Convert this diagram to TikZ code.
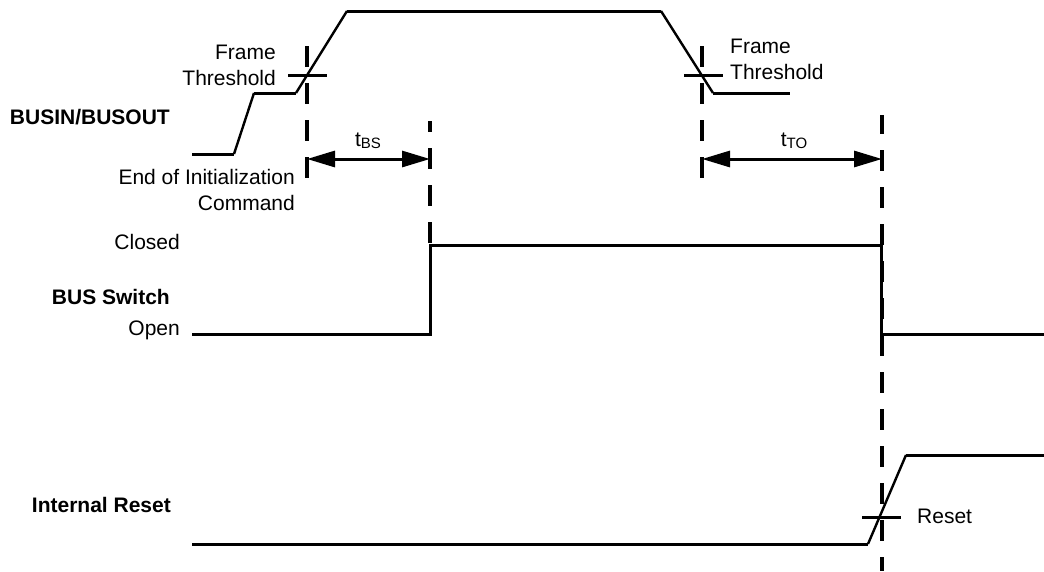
\documentclass[tikz,border=0pt]{standalone}
\usepackage{fontspec}
\setmainfont{Liberation Sans}
\usetikzlibrary{arrows.meta}

\newcommand{\tsub}[1]{t\raisebox{-2pt}{\fontsize{15}{17}\selectfont #1}}

\tikzset{
  sig/.style={line width=3pt},
  slope/.style={line width=2.4pt},
  marker/.style={line width=3.2pt, dash pattern=on 21pt off 16pt},
  tick/.style={line width=3pt},
  span/.style={line width=3pt, {Triangle[length=28pt,width=16pt]}-{Triangle[length=28pt,width=16pt]}},
  lbl/.style={inner sep=0pt, font=\fontsize{21}{26}\selectfont},
  signame/.style={inner sep=0pt, anchor=east, font=\fontsize{21}{26}\selectfont\bfseries},
}

\begin{document}
\begin{tikzpicture}[x=1pt, y=-1pt]
    	\useasboundingbox (0,0) rectangle (1044,571);
    	
    	% signal names
    	\node[signame] (busin)     at (170,117) {BUSIN/BUSOUT};
    	\node[signame] (busswitch) at (170,297) {BUS Switch};
    	\node[signame] (intreset)  at (171,505) {Internal Reset};
    	
    	% BUSIN/BUSOUT
    	\draw[sig]   (192,154) -- (234,154);
    	\draw[slope] (234,154) -- (254,93);
    	\draw[sig]   (254,93) -- (296,93);
    	\draw[slope] (296,93) -- (347,11);
    	\draw[sig]   (347,11) -- (661,11);
    	\draw[slope] (661,11) -- (713,93);
    	\draw[sig]   (713,93) -- (790,93);
    	
    	% BUS Switch
    	\draw[sig] (192,334) -- (430,334) -- (430,245) -- (881,245) -- (881,334) -- (1044,334);
    	
    	% Internal Reset
    	\draw[sig]   (192,544) -- (868,544);
    	\draw[slope] (868,544) -- (906,455);
    	\draw[sig]   (906,455) -- (1044,455);
    	
    	% thresholds
    	\coordinate (thrLa) at (288,75);
    	\coordinate (thrLb) at (327,75);
    	\coordinate (thrRa) at (684,75);
    	\coordinate (thrRb) at (723,75);
    	\coordinate (rsta)  at (862,517);
    	\coordinate (rstb)  at (901,517);
    	\path[tick] (thrLa) edge (thrLb);
    	\path[tick] (thrRa) edge (thrRb);
    	\path[tick] (rsta) edge (rstb);
    	
    	% time markers
    	\coordinate (m1top) at (307,46);
    	\coordinate (m1bot) at (307,190);
    	\coordinate (m2top) at (430,121);
    	\coordinate (m2bot) at (430,245);
    	\coordinate (m3top) at (702,46);
    	\coordinate (m3bot) at (702,190);
    	\coordinate (m4top) at (882,115);
    	\coordinate (m4bot) at (882,571);
    	\path[marker] (m1top) edge (m1bot);
    	\path[marker, dash phase=10pt] (m2top) edge (m2bot);
    	\path[marker] (m3top) edge (m3bot);
    	\path[marker, dash phase=2pt] (m4top) edge (m4bot);
    	
    	% intervals
    	\coordinate (bsL) at (307,159);
    	\coordinate (bsR) at (430,159);
    	\coordinate (toL) at (702,159);
    	\coordinate (toR) at (882,159);
    	\draw[span] (bsL) -- (bsR);
    	\draw[span] (toL) -- (toR);
    	\node[lbl, anchor=base] (tbs) at (368,146) {\tsub{BS}};
    	\node[lbl, anchor=base] (tto) at (794,146) {\tsub{TO}};
    	
    	% labels
    	\node[lbl, anchor=east, align=right] (frameL) at (276,65) {Frame\\Threshold};
    	\node[lbl, anchor=west, align=left]  (frameR) at (730,59) {Frame\\Threshold};
    	\node[lbl, anchor=east, align=right] (endinit) at (295,190) {End of Initialization\\Command};
    	\node[lbl, anchor=east] (closed) at (180,242) {Closed};
    	\node[lbl, anchor=east] (open)   at (180,330) {Open};
    	\node[lbl, anchor=west] (reset)  at (917,516) {Reset};
    	
\end{tikzpicture}
\end{document}
